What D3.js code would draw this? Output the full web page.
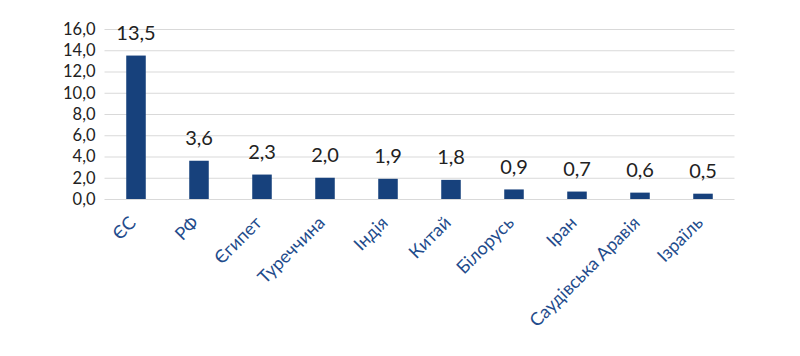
<!DOCTYPE html>
<html><head><meta charset="utf-8">
<script src="https://cdn.jsdelivr.net/npm/d3@7"></script>
<style>body{margin:0;background:#fff}svg{display:block}</style>
</head><body>
<script>
const categories = ["ЄС","РФ","Єгипет","Туреччина","Індія","Китай","Білорусь","Іран","Саудівська Аравія","Ізраїль"];
const values = [13.5,3.6,2.3,2.0,1.9,1.8,0.9,0.7,0.6,0.5];
const yTicks = [0,2,4,6,8,10,12,14,16];

const W=800,H=356;
const svg=d3.select("body").append("svg").attr("width",W).attr("height",H);
const x=d3.scaleBand().domain(categories).range([104.5,734.5]).paddingInner(0.69).paddingOuter(0.345);
const y=d3.scaleLinear().domain([0,16]).range([199,29]);
const fmt=d=>d.toFixed(1).replace(".",",");
const font="Lato, 'Open Sans', sans-serif";

const ga=svg.append("g").attr("transform","translate(104.5,0)")
  .call(d3.axisLeft(y).tickValues(yTicks).tickSize(-630).tickPadding(9).tickFormat(fmt));
ga.select(".domain").remove();
ga.selectAll(".tick line").attr("stroke","#d9d9d9").attr("stroke-width",1);
ga.selectAll(".tick text").attr("fill","#222").style("font-family",font).style("font-size","16.5px");

svg.append("g").selectAll("rect").data(values).join("rect")
  .attr("x",(d,i)=>x(categories[i])).attr("width",x.bandwidth())
  .attr("y",d=>y(d)).attr("height",d=>y(0)-y(d))
  .attr("fill","#17417c");

svg.append("g").selectAll("text").data(values).join("text")
  .attr("x",(d,i)=>x(categories[i])+x.bandwidth()/2).attr("y",d=>y(d)-15.5)
  .attr("text-anchor","middle").attr("fill","#222")
  .style("font-family",font).style("font-size","20px").text(fmt);

const gx=svg.append("g").attr("transform","translate(0,199)")
  .call(d3.axisBottom(x).tickSize(0).tickPadding(0));
gx.select(".domain").remove();
gx.selectAll(".tick text").attr("text-anchor","end").attr("dy",0)
  .attr("transform","translate(1,25) rotate(-45)")
  .attr("fill","#1f4c8c").style("font-family",font).style("font-size","18px");
</script>
</body></html>
